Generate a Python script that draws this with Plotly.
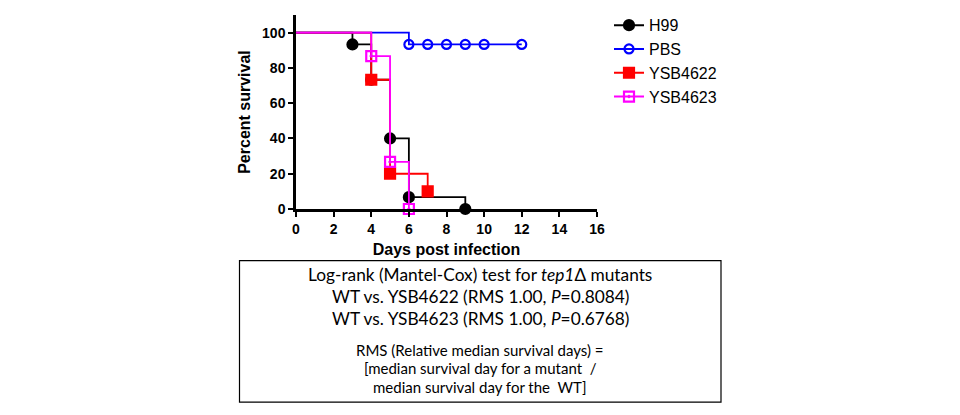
import plotly.graph_objects as go

# survival data (percent)
h99_days = [0, 3, 4, 5, 6, 9]
h99_surv = [100, 93.3, 73.3, 40, 6.7, 0]

pbs_days = [0, 6, 7, 8, 9, 10, 12]
pbs_surv = [100, 93.3, 93.3, 93.3, 93.3, 93.3, 93.3]

ysb4622_days = [0, 4, 5, 7]
ysb4622_surv = [100, 73.3, 20, 10]

ysb4623_days = [0, 4, 5, 6]
ysb4623_surv = [100, 86.7, 26.7, 0]

x_ticks = [0, 2, 4, 6, 8, 10, 12, 14, 16]
y_ticks = [0, 20, 40, 60, 80, 100]

box_lines = [
    "Log-rank (Mantel-Cox) test for <i>tep1</i>Δ mutants",
    "WT vs. YSB4622 (RMS 1.00, <i>P</i>=0.8084)",
    "WT vs. YSB4623 (RMS 1.00, <i>P</i>=0.6768)",
    "RMS (Relative median survival days) =",
    "[median survival day for a mutant  /",
    "median survival day for the  WT]",
]

series = [
    ("H99", h99_days, h99_surv, "#000000", "circle", 10),
    ("PBS", pbs_days, pbs_surv, "#0000FF", "circle-open", 9),
    ("YSB4622", ysb4622_days, ysb4622_surv, "#FF0000", "square", 10),
    ("YSB4623", ysb4623_days, ysb4623_surv, "#FF00FF", "square-open-dot", 10),
]

# page offset (body margin) and plot area in page pixels
OFF = 8
W, H = 960 - OFF, 415 - OFF
L, R, T, B = 296, 597, 8, 209

def px(x):
    return (x - L) / (R - L)

def py(y):
    return (B - y) / (B - T)

fig = go.Figure()
for name, d, s, col, sym, sz in series:
    fig.add_trace(go.Scatter(x=d, y=s, mode="lines", line=dict(color=col, width=1.8, shape="hv"),
                             showlegend=False, cliponaxis=False, hoverinfo="skip"))
    fig.add_trace(go.Scatter(x=d[1:], y=s[1:], mode="markers", showlegend=False, cliponaxis=False,
                             marker=dict(color=col, symbol=sym, size=sz, line=dict(color=col, width=2.2))))
    fig.add_trace(go.Scatter(x=[None], y=[None], mode="lines+markers", name=name,
                             line=dict(color=col, width=2),
                             marker=dict(color=col, symbol=sym, size=sz, line=dict(color=col, width=2.2))))

fig.update_xaxes(range=[0, 16], tickvals=x_ticks, showgrid=False, zeroline=False,
                 showline=True, linecolor="black", linewidth=2.5, ticks="outside",
                 ticklen=5, tickwidth=2, tickcolor="black",
                 tickfont=dict(family="Liberation Sans", size=14, color="black", weight="bold"),
                 title=dict(text="Days post infection", standoff=9,
                            font=dict(family="Liberation Sans", size=16, color="black", weight="bold")))
fig.update_yaxes(range=[0, 110], tickvals=y_ticks, showgrid=False, zeroline=False,
                 showline=True, linecolor="black", linewidth=2.5, ticks="outside",
                 ticklen=5, tickwidth=2, tickcolor="black",
                 tickfont=dict(family="Liberation Sans", size=14, color="black", weight="bold"),
                 title=dict(text="Percent survival", standoff=8,
                            font=dict(family="Liberation Sans", size=16, color="black", weight="bold")))

# statistics box
fig.add_shape(type="rect", xref="paper", yref="paper",
              x0=px(239.5), x1=px(721), y0=py(262.5), y1=py(409),
              line=dict(color="black", width=1.2), fillcolor="rgba(0,0,0,0)")
line_y = [277, 300, 322, 355, 374, 393]
line_size = [17.3, 17.3, 17.3, 15, 15, 15]
for txt, yy, fs in zip(box_lines, line_y, line_size):
    fig.add_annotation(text=txt, xref="paper", yref="paper", x=px(480), y=py(yy),
                       xanchor="center", yanchor="middle", showarrow=False,
                       font=dict(family="Lato", size=fs, color="black"))

fig.update_layout(
    width=W, height=H,
    margin=dict(l=L - OFF, r=960 - R, t=T - OFF, b=415 - B),
    plot_bgcolor="white", paper_bgcolor="white",
    legend=dict(x=px(609), y=py(1), xanchor="left", yanchor="top",
                font=dict(family="Liberation Sans", size=16, color="black"),
                bgcolor="rgba(0,0,0,0)"),
)

fig.write_html("out.html")
